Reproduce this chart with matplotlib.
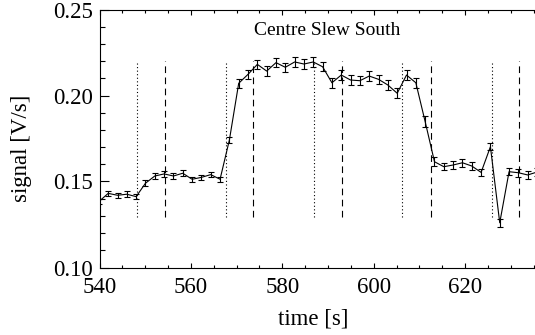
import matplotlib
matplotlib.use("Agg")
import matplotlib.pyplot as plt
from matplotlib.ticker import MultipleLocator, FormatStrFormatter

plt.rcParams['font.family'] = ['Liberation Serif', 'DejaVu Serif']

# ---- data ----
time_s = [539.86, 541.90, 543.94, 545.98, 548.02, 550.06, 552.10, 554.14, 556.18,
          558.22, 560.26, 562.30, 564.34, 566.38, 568.42, 570.46, 572.50, 574.54,
          576.58, 578.62, 580.66, 582.70, 584.74, 586.78, 588.82, 590.86, 592.90,
          594.94, 596.98, 599.02, 601.06, 603.10, 605.14, 607.18, 609.22, 611.26,
          613.30, 615.34, 617.38, 619.42, 621.46, 623.50, 625.54, 627.58, 629.62,
          631.66, 633.70, 635.74]
signal = [0.1383, 0.1431, 0.1420, 0.1426, 0.1412, 0.1490, 0.1532, 0.1544, 0.1532,
          0.1548, 0.1513, 0.1524, 0.1540, 0.1513, 0.1741, 0.2071, 0.2123, 0.2181,
          0.2142, 0.2191, 0.2164, 0.2195, 0.2183, 0.2195, 0.2167, 0.2074, 0.2119,
          0.2090, 0.2086, 0.2113, 0.2094, 0.2061, 0.2013, 0.2119, 0.2074, 0.1848,
          0.1615, 0.1586, 0.1596, 0.1609, 0.1590, 0.1553, 0.1702, 0.1260, 0.1557,
          0.1551, 0.1538, 0.1555]
error = [0.0016, 0.0016, 0.0016, 0.0016, 0.0016, 0.0016, 0.0016, 0.0016, 0.0016,
         0.0016, 0.0016, 0.0016, 0.0016, 0.0016, 0.0020, 0.0027, 0.0027, 0.0027,
         0.0027, 0.0027, 0.0027, 0.0027, 0.0027, 0.0027, 0.0027, 0.0029, 0.0030,
         0.0027, 0.0027, 0.0027, 0.0027, 0.0028, 0.0029, 0.0030, 0.0029, 0.0032,
         0.0025, 0.0022, 0.0022, 0.0022, 0.0022, 0.0022, 0.0020, 0.0023, 0.0022,
         0.0022, 0.0022, 0.0022]
dotted_times = [548.1, 567.6, 586.9, 606.3, 625.8]
dashed_times = [554.3, 573.6, 593.0, 612.5, 631.9]
vline_range = [0.1295, 0.2200]
x_ticks = [540, 560, 580, 600, 620, 640]
x_tick_labels = ['540', '560', '580', '600', '620', '']
title_text = "Centre Slew South"
xlabel_text = "time [s]"
ylabel_text = "signal [V/s]"

# ---- figure ----
W, H = 535, 335
fig = plt.figure(figsize=(W / 100, H / 100), dpi=100)
ax_left, ax_bottom, ax_top = 99.5, 267.5, 9.5
ax_w = 457.0
ax = fig.add_axes([ax_left / W, 1 - ax_bottom / H, ax_w / W, (ax_bottom - ax_top) / H])
ax.set_xlim(540, 640)
ax.set_ylim(0.10, 0.25)

ax.errorbar(time_s, signal, yerr=error, color='black', lw=0.8, elinewidth=0.8,
            capsize=2.2, capthick=0.8, clip_on=True)

for t in dotted_times:
    ax.plot([t, t], vline_range, color='black', lw=0.8, linestyle=(0, (1, 2.2)))
for t in dashed_times:
    ax.plot([t, t], vline_range, color='black', lw=0.8, linestyle=(0, (6, 4)))

ax.text(589.8, 0.2352, title_text, ha='center', va='baseline', fontsize=14)

ax.set_xticks(x_ticks)
ax.set_xticklabels(x_tick_labels)
ax.xaxis.set_minor_locator(MultipleLocator(5))
ax.yaxis.set_major_locator(MultipleLocator(0.05))
ax.yaxis.set_minor_locator(MultipleLocator(0.01))
ax.yaxis.set_major_formatter(FormatStrFormatter('%.2f'))

ax.tick_params(axis='both', which='both', direction='in', top=True, right=True,
               width=0.8, labelsize=16.5, color='black')
ax.tick_params(axis='x', which='major', length=3.8, pad=7)
ax.tick_params(axis='x', which='minor', length=1.9)
ax.tick_params(axis='y', which='major', length=6.5, pad=5)
ax.tick_params(axis='y', which='minor', length=3.3)
for s in ax.spines.values():
    s.set_linewidth(0.8)

fig.text(313 / W, 1 - 325 / H, xlabel_text, ha='center', va='baseline', fontsize=16.5)
fig.text(22 / W, 1 - 148 / H, ylabel_text, ha='center', va='center', rotation=90,
         fontsize=16.5)

fig.savefig("out.png", dpi=100)
